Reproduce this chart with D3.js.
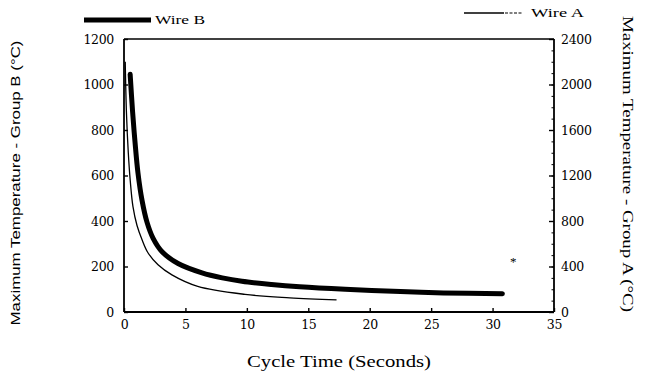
<!DOCTYPE html>
<html>
<head>
<meta charset="utf-8">
<script src="https://cdn.jsdelivr.net/npm/d3@7"></script>
<style>
body { margin:0; background:#fff; }
svg text { fill:#000; }
</style>
</head>
<body>
<div id="chart"></div>
<script>
// cycle time (s) vs max temperature
const wireBTime = [0.5, 0.7, 0.9, 1.14, 1.47, 1.87, 2.36, 3.1, 4.4, 6.35, 8, 9.6, 12, 14.3, 18, 22.5, 26, 30.8];
const wireBTemp = [1045, 880, 745, 610, 490, 395, 325, 265, 213, 172, 150, 135, 121, 111, 100, 90, 84, 80];

const wireATime = [0.1, 0.2, 0.35, 0.5, 0.73, 1.06, 1.47, 1.95, 2.77, 3.9, 6, 9.85, 13.5, 17.3];
const wireATemp = [2200, 1750, 1400, 1165, 926, 760, 635, 521, 415, 326, 225, 155, 125, 106];

const xTicks = [0, 5, 10, 15, 20, 25, 30, 35];
const leftTicks = [0, 200, 400, 600, 800, 1000, 1200];
const rightTicks = [0, 400, 800, 1200, 1600, 2000, 2400];

const width = 648, height = 373;
const margin = { top: 39, bottom: 61, left: 124, right: 94 };

const svg = d3.select("#chart").append("svg")
  .attr("width", width)
  .attr("height", height);

const xScale = d3.scaleLinear().domain([0, 35]).range([margin.left, width - margin.right]);
const yLeft = d3.scaleLinear().domain([0, 1200]).range([height - margin.bottom, margin.top]);
const yRight = d3.scaleLinear().domain([0, 2400]).range([height - margin.bottom, margin.top]);

const serif = "'Liberation Serif', 'DejaVu Serif', serif";
const tickFont = "'DejaVu Serif', serif";

// frame top line
svg.append("line")
  .attr("x1", xScale(0)).attr("x2", xScale(35))
  .attr("y1", yLeft(1200)).attr("y2", yLeft(1200))
  .attr("stroke", "#000").attr("stroke-width", 1.6);

const xAxis = d3.axisBottom(xScale).tickValues(xTicks).tickSize(-4).tickPadding(8).tickFormat(d3.format("d"));
const yAxisL = d3.axisLeft(yLeft).tickValues(leftTicks).tickSize(-4).tickPadding(10).tickFormat(d3.format("d"));
const yAxisR = d3.axisRight(yRight).tickValues(rightTicks).tickSize(-5).tickPadding(7).tickFormat(d3.format("d"));

function styleAxis(g) {
  g.select(".domain").attr("stroke-width", 1.8);
  g.selectAll(".tick line").attr("stroke-width", 1.4);
  g.selectAll("text").style("font-family", tickFont).style("font-size", "12.5px")
    .style("letter-spacing", "-0.3px");
}

svg.append("g")
  .attr("transform", `translate(0,${height - margin.bottom})`)
  .call(xAxis).call(styleAxis)
  .call(g => g.select(".domain").attr("d", `M${xScale(0)},0H${xScale(35)}`));

svg.append("g")
  .attr("transform", `translate(${margin.left},0)`)
  .call(yAxisL).call(styleAxis)
  .call(g => g.select(".domain").attr("d", `M0,${yLeft(0)}V${yLeft(1200)}`));

// minor ticks on right axis
svg.append("g")
  .attr("transform", `translate(${width - margin.right},0)`)
  .call(d3.axisRight(yRight).tickValues(d3.range(100, 2400, 100)).tickSize(-2.5).tickFormat(""))
  .call(g => g.select(".domain").remove());

svg.append("g")
  .attr("transform", `translate(${width - margin.right},0)`)
  .call(yAxisR).call(styleAxis)
  .call(g => g.select(".domain").attr("d", `M0,${yRight(0)}V${yRight(2400)}`));

// curves
const lineB = d3.line().x(d => xScale(d[0])).y(d => yLeft(d[1])).curve(d3.curveCatmullRom.alpha(0.5));
const lineA = d3.line().x(d => xScale(d[0])).y(d => yRight(d[1])).curve(d3.curveCatmullRom.alpha(0.5));

svg.append("path")
  .datum(d3.zip(wireBTime, wireBTemp))
  .attr("d", lineB)
  .attr("fill", "none").attr("stroke", "#000").attr("stroke-width", 5)
  .attr("stroke-linecap", "round");

svg.append("path")
  .datum(d3.zip(wireATime, wireATemp))
  .attr("d", lineA)
  .attr("fill", "none").attr("stroke", "#000").attr("stroke-width", 1.3);

// legends
svg.append("line").attr("x1", 84).attr("x2", 151).attr("y1", 20).attr("y2", 20)
  .attr("stroke", "#000").attr("stroke-width", 5);
svg.append("text").attr("x", 155).attr("y", 24).text("Wire  B")
  .attr("textLength", 50).attr("lengthAdjust", "spacingAndGlyphs")
  .style("font-family", serif).style("font-size", "12.5px");

svg.append("line").attr("x1", 464).attr("x2", 504).attr("y1", 13).attr("y2", 13)
  .attr("stroke", "#000").attr("stroke-width", 1.3);
svg.append("line").attr("x1", 505).attr("x2", 522).attr("y1", 13).attr("y2", 13)
  .attr("stroke", "#000").attr("stroke-width", 1.1).attr("stroke-dasharray", "3,1.5");
svg.append("text").attr("x", 531).attr("y", 17).text("Wire  A")
  .attr("textLength", 53).attr("lengthAdjust", "spacingAndGlyphs")
  .style("font-family", serif).style("font-size", "12.5px");

// axis titles
svg.append("text")
  .attr("transform", "translate(20,183) rotate(-90)")
  .attr("text-anchor", "middle")
  .attr("textLength", 285).attr("lengthAdjust", "spacingAndGlyphs")
  .style("font-family", "'Liberation Sans', Arial, sans-serif")
  .style("font-size", "13.5px")
  .text("Maximum  Temperature  -  Group  B  (°C)");

svg.append("text")
  .attr("transform", "translate(623,164) rotate(90)")
  .attr("text-anchor", "middle")
  .attr("textLength", 296).attr("lengthAdjust", "spacingAndGlyphs")
  .style("font-family", serif)
  .style("font-size", "15.5px")
  .text("Maximum Temperature - Group A (°C)");

svg.append("text")
  .attr("x", 339).attr("y", 367)
  .attr("text-anchor", "middle")
  .attr("textLength", 184).attr("lengthAdjust", "spacingAndGlyphs")
  .style("font-family", serif)
  .style("font-size", "16.5px")
  .text("Cycle Time (Seconds)");

// stray mark on the scan
svg.append("text").attr("x", 510).attr("y", 266).text("*")
  .style("font-family", serif).style("font-size", "13px");
</script>
</body>
</html>
